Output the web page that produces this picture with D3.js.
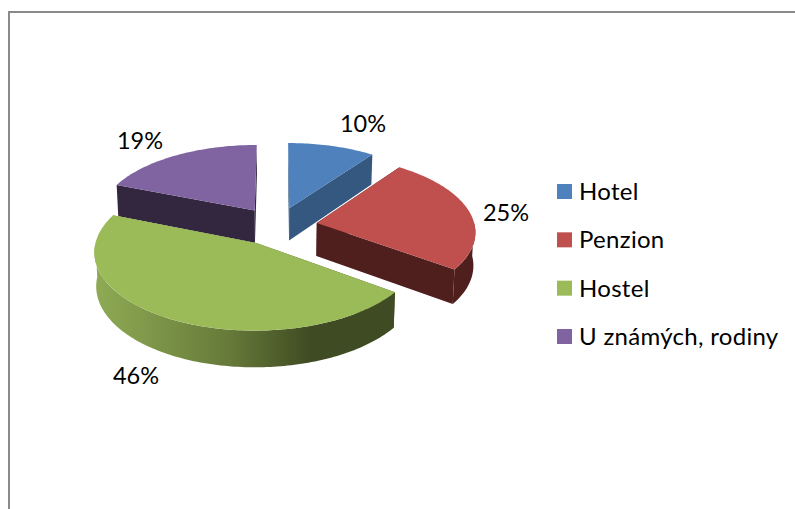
<!DOCTYPE html>
<html>
<head>
<meta charset="utf-8">
<script src="https://cdn.jsdelivr.net/npm/d3@7"></script>
<style>
  html, body { margin: 0; padding: 0; background: #fff; overflow: hidden; }
  text { font-family: Lato, "Open Sans", sans-serif; fill: #000; }
</style>
</head>
<body>
<div id="chart"></div>
<script>
const categories = ["Hotel", "Penzion", "Hostel", "U známých, rodiny"];
const shares = [10, 25, 46, 19];
const shareLabels = ["10%", "25%", "46%", "19%"];

const topColors = ["#4f81bd", "#c0504d", "#9bbb59", "#8064a2"];
const wallColors = ["#34587f", "#4f1f1e", "url(#hostelWall)", "#33263f"];

const width = 795, height = 509;

// fake 3d pie: centre, radii, perspective strength, slice explosion, wall height
const cx = 277, cy = 226;
const rx = 158, ry = 75;
const persp = 0.1;
const explode = 0.256;

const svg = d3.select("#chart")
  .append("svg")
  .attr("width", width)
  .attr("height", height);

// gradient on the curved side of the green slice
const grad = svg.append("defs").append("linearGradient")
  .attr("id", "hostelWall")
  .attr("gradientUnits", "userSpaceOnUse")
  .attr("x1", 94).attr("x2", 395)
  .attr("y1", 0).attr("y2", 0);
grad.append("stop").attr("offset", "0").attr("stop-color", "#8fab55");
grad.append("stop").attr("offset", "0.45").attr("stop-color", "#667a39");
grad.append("stop").attr("offset", "0.72").attr("stop-color", "#3f4b22");
grad.append("stop").attr("offset", "1").attr("stop-color", "#3f4b22");

// frame, open on the right and at the bottom
svg.append("path")
  .attr("d", d3.line()([[9, height], [9, 12], [width, 12]]))
  .attr("fill", "none")
  .attr("stroke", "#8a8a8a")
  .attr("stroke-width", 2);

function project(u, v) {
  const s = 1 / (1 - persp * v);
  return [cx + rx * u * s, cy + ry * v * s];
}

// same point on the lower rim of the slice
function drop(u, v) {
  const p = project(u, v);
  return [cx + (p[0] - cx) * 0.99, p[1] + 33 + 3 * v];
}

const slices = d3.pie().sort(null).value(d => d)(shares);
const line = d3.line();

function rimAngles(a0, a1) {
  const n = Math.max(2, Math.ceil((a1 - a0) / 0.02));
  return d3.range(n + 1).map(i => a0 + (a1 - a0) * i / n);
}

function drawSlice(i) {
  const d = slices[i];
  const mid = (d.startAngle + d.endAngle) / 2;
  const ou = explode * Math.sin(mid), ov = -explode * Math.cos(mid);
  const uv = a => [ou + Math.sin(a), ov - Math.cos(a)];
  const g = svg.append("g");

  // flat side walls from the apex to both ends of the rim
  [d.startAngle, d.endAngle].forEach(a => {
    const e = uv(a);
    g.append("path")
      .attr("d", line([project(ou, ov), project(e[0], e[1]), drop(e[0], e[1]), drop(ou, ov)]) + "Z")
      .attr("fill", wallColors[i]);
  });

  // curved wall, only the part that faces the viewer
  const a0 = Math.max(d.startAngle, Math.PI / 2);
  const a1 = Math.min(d.endAngle, Math.PI * 1.5);
  if (a1 > a0) {
    const arc = rimAngles(a0, a1).map(uv);
    const pts = arc.map(e => project(e[0], e[1]))
      .concat(arc.map(e => drop(e[0], e[1])).reverse());
    g.append("path").attr("d", line(pts) + "Z").attr("fill", wallColors[i]);
  }

  // top face
  const rim = rimAngles(d.startAngle, d.endAngle).map(a => {
    const e = uv(a);
    return project(e[0], e[1]);
  });
  g.append("path")
    .attr("d", line([project(ou, ov)].concat(rim)) + "Z")
    .attr("fill", topColors[i]);
}

// back slices first
[0, 3, 1, 2].forEach(drawSlice);

// percent labels
const labelPos = [[363, 132], [506, 221], [136, 384], [140, 149]];
svg.selectAll(".pct")
  .data(shareLabels)
  .enter()
  .append("text")
  .attr("class", "pct")
  .attr("x", (d, i) => labelPos[i][0])
  .attr("y", (d, i) => labelPos[i][1])
  .attr("text-anchor", "middle")
  .attr("font-size", 23.5)
  .text(d => d);

// legend
const legendY = d3.scalePoint().domain(categories).range([184, 329]);
const legend = svg.selectAll(".legend")
  .data(categories)
  .enter()
  .append("g")
  .attr("class", "legend")
  .attr("transform", d => `translate(557, ${legendY(d)})`);
legend.append("rect")
  .attr("width", 15)
  .attr("height", 15)
  .attr("fill", (d, i) => topColors[i]);
legend.append("text")
  .attr("x", 22)
  .attr("y", 16)
  .attr("font-size", 24)
  .attr("letter-spacing", 0.3)
  .text(d => d);
</script>
</body>
</html>
